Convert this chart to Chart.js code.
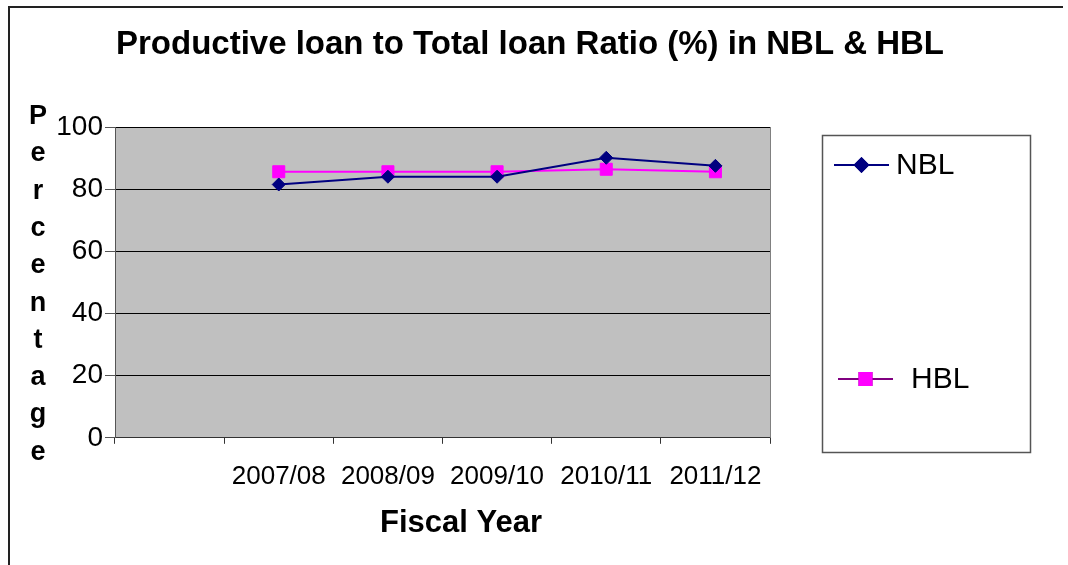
<!DOCTYPE html>
<html lang="en">
<head>
    <meta charset="UTF-8">
    <title>Productive loan to Total loan Ratio</title>
    <script src="https://cdn.jsdelivr.net/npm/chart.js"></script>
    <style>
        html, body { margin: 0; padding: 0; background: #fff; }
        #wrap { width: 1068px; height: 565px; position: relative; }
    </style>
</head>
<body>

<div id="wrap">
    <canvas id="loanChart"></canvas>
</div>

<script>
// values
const years = ['2007/08', '2008/09', '2009/10', '2010/11', '2011/12'];
const nbl = [81.5, 84.0, 84.0, 90.1, 87.5];
const hbl = [85.6, 85.6, 85.6, 86.4, 85.6];
const yTicks = [0, 20, 40, 60, 80, 100];

const chartTitle = 'Productive loan to Total loan Ratio (%) in NBL & HBL';
const xTitle = 'Fiscal Year';
const yTitle = 'Percentage';

const FONT = "Arial, 'Liberation Sans', sans-serif";

// the original leaves one empty category slot before the first year
const labels = [''].concat(years);

const frame = {
    id: 'frame',
    beforeDraw(chart) {
        const ctx = chart.ctx;
        const a = chart.chartArea;
        ctx.save();
        ctx.fillStyle = '#c0c0c0';
        ctx.fillRect(a.left, a.top, a.right - a.left, a.bottom - a.top);
        ctx.restore();
    },
    afterDraw(chart) {
        const ctx = chart.ctx;
        const a = chart.chartArea;
        ctx.save();

        // plot area right edge
        ctx.strokeStyle = '#808080';
        ctx.lineWidth = 1;
        ctx.beginPath();
        ctx.moveTo(a.right + 0.5, a.top);
        ctx.lineTo(a.right + 0.5, a.bottom);
        ctx.stroke();

        // outer frame (left and top only are visible)
        ctx.strokeStyle = '#222';
        ctx.lineWidth = 2;
        ctx.beginPath();
        ctx.moveTo(9, 565);
        ctx.lineTo(9, 7);
        ctx.lineTo(1063, 7);
        ctx.stroke();

        ctx.fillStyle = '#000';

        // title
        ctx.font = 'bold 33px ' + FONT;
        ctx.textAlign = 'center';
        ctx.textBaseline = 'middle';
        ctx.fillText(chartTitle, 530, 45);

        // x axis title
        ctx.font = 'bold 31px ' + FONT;
        ctx.fillText(xTitle, 461, 523);

        // y axis title, one letter per line
        ctx.font = 'bold 27px ' + FONT;
        ctx.textBaseline = 'alphabetic';
        yTitle.split('').forEach((ch, i) => {
            ctx.fillText(ch, 38, 124 + i * 37.3);
        });

        // legend box
        ctx.strokeStyle = '#555';
        ctx.lineWidth = 1.5;
        ctx.strokeRect(822.5, 135.5, 208, 317);

        const entries = [
            {ds: chart.data.datasets[0], x0: 834, x1: 889, y: 165, tx: 896, line: '#000080'},
            {ds: chart.data.datasets[1], x0: 838, x1: 893, y: 379, tx: 911, line: '#800080'}
        ];
        entries.forEach(e => {
            ctx.strokeStyle = e.line;
            ctx.lineWidth = 2;
            ctx.beginPath();
            ctx.moveTo(e.x0, e.y);
            ctx.lineTo(e.x1, e.y);
            ctx.stroke();
            Chart.helpers.drawPoint(ctx, {
                pointStyle: e.ds.pointStyle,
                radius: e.ds.pointRadius,
                borderWidth: 1
            }, (e.x0 + e.x1) / 2, e.y);
            ctx.fillStyle = e.ds.pointBackgroundColor;
            ctx.strokeStyle = e.ds.pointBorderColor;
            ctx.fill();
            ctx.stroke();
            ctx.fillStyle = '#000';
            ctx.font = '30px ' + FONT;
            ctx.textAlign = 'left';
            ctx.textBaseline = 'middle';
            ctx.fillText(e.ds.label, e.tx, e.y + 1);
        });

        ctx.restore();
    }
};

const ctx = document.getElementById('loanChart').getContext('2d');
new Chart(ctx, {
    type: 'line',
    data: {
        labels: labels,
        datasets: [
            {
                label: 'NBL',
                data: [null].concat(nbl),
                borderColor: '#000080',
                borderWidth: 2,
                pointStyle: 'rectRot',
                pointRadius: 6.5,
                pointBackgroundColor: '#000080',
                pointBorderColor: '#000080',
                pointBorderWidth: 1,
                tension: 0
            },
            {
                label: 'HBL',
                data: [null].concat(hbl),
                borderColor: '#ff00ff',
                borderWidth: 2,
                pointStyle: 'rect',
                pointRadius: 8.5,
                pointBackgroundColor: '#ff00ff',
                pointBorderColor: '#ff00ff',
                pointBorderWidth: 1,
                tension: 0
            }
        ]
    },
    options: {
        responsive: true,
        maintainAspectRatio: false,
        animation: false,
        layout: {
            padding: {left: 50, right: 298, top: 127, bottom: 56}
        },
        scales: {
            x: {
                type: 'category',
                offset: true,
                grid: {
                    offset: true,
                    drawOnChartArea: false,
                    drawTicks: true,
                    tickLength: 6,
                    color: '#333'
                },
                border: {color: '#333', width: 1},
                ticks: {
                    color: '#000',
                    padding: 17,
                    maxRotation: 0,
                    autoSkip: false,
                    font: {family: FONT, size: 26}
                }
            },
            y: {
                min: 0,
                max: 100,
                afterFit: s => { s.width = 65; },
                afterBuildTicks: s => { s.ticks = yTicks.map(v => ({value: v})); },
                grid: {
                    color: '#000',
                    tickColor: '#555',
                    tickLength: 10
                },
                border: {color: '#555', width: 1},
                ticks: {
                    color: '#000',
                    padding: 2,
                    font: {family: FONT, size: 28}
                }
            }
        },
        plugins: {
            legend: {display: false},
            title: {display: false},
            tooltip: {enabled: false}
        }
    },
    plugins: [frame]
});
</script>

</body>
</html>
